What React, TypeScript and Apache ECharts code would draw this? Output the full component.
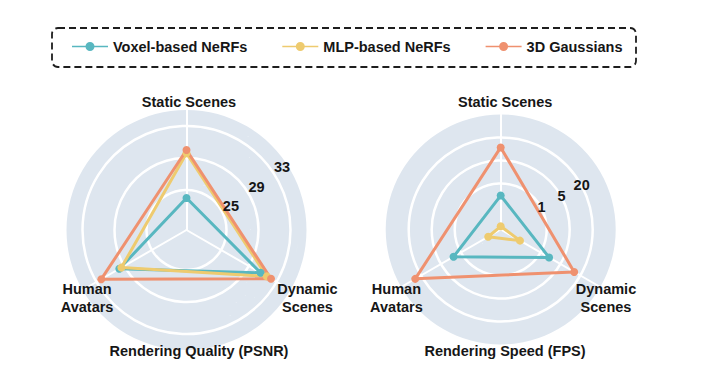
import React, { useEffect, useRef } from 'react';
import * as echarts from 'echarts';

// ---------- data ----------
const SERIES_NAMES = ['Voxel-based NeRFs', 'MLP-based NeRFs', '3D Gaussians'];
const SERIES_COLORS = ['#58b7c0', '#eecb6f', '#ef916f'];
const INDICATORS = ['Static Scenes', 'Human\nAvatars', 'Dynamic\nScenes'];

// Rendering quality, PSNR (dB); order: Static, Human, Dynamic
const PSNR_VOXEL = [24.0, 29.7, 30.7];
const PSNR_MLP = [29.6, 29.4, 31.6];
const PSNR_GS = [30.0, 32.3, 32.2];
const PSNR_TICKS = [25, 29, 33];
const PSNR_MIN = 20;
const PSNR_MAX = 35;

// Rendering speed, FPS; order: Static, Human, Dynamic
const FPS_VOXEL = [0.43, 1.8, 2.0];
const FPS_MLP = [0.05, 0.11, 0.19];
const FPS_GS = [11, 30, 13];
const FPS_TICKS = [1, 5, 20];
const FPS_RING_START = 2; // ring index of first tick
const FPS_RINGS = 5;

const TITLES = ['Rendering Quality (PSNR)', 'Rendering Speed (FPS)'];

// map an FPS value to ring position (ticks are equally spaced, log-like in between)
function fpsPos(v: number): number {
  const t = FPS_TICKS;
  if (v <= t[1]) return FPS_RING_START + Math.log(v / t[0]) / Math.log(t[1] / t[0]);
  return FPS_RING_START + 1 + Math.log(v / t[1]) / Math.log(t[2] / t[1]);
}

const FONT = '"Liberation Sans", Arial, Helvetica, sans-serif';
const TXT = '#161616';
const DISC = '#dee6ef';

const LEGEND_ICON =
  'path://M0,3.7H36V5.3H0Z M13.5,4.5A4.5,4.5 0 1,1 22.5,4.5A4.5,4.5 0 1,1 13.5,4.5Z';

function nameFormatter(name: string) {
  const key = name.startsWith('Static') ? 's' : name.startsWith('Human') ? 'h' : 'd';
  return name
    .split('\n')
    .map((l) => `{${key}|${l}}`)
    .join('\n');
}

function richName(s: number[], h: number[], d: number[]) {
  const base = { fontSize: 14.5, fontWeight: 'bold', color: TXT, fontFamily: FONT, lineHeight: 18 };
  return {
    s: { ...base, padding: s },
    h: { ...base, padding: h },
    d: { ...base, padding: d },
  };
}

export default function App() {
  const ref = useRef<HTMLDivElement>(null);

  useEffect(() => {
    if (!ref.current) return;
    const chart = echarts.init(ref.current, null, { renderer: 'svg' });

    const leftSplitColors = Array.from({ length: PSNR_MAX - PSNR_MIN + 1 }, (_, i) =>
      PSNR_TICKS.includes(PSNR_MIN + i) ? '#ffffff' : 'rgba(0,0,0,0)'
    );
    const rightSplitColors = Array.from({ length: FPS_RINGS + 1 }, (_, i) =>
      i >= FPS_RING_START && i < FPS_RING_START + FPS_TICKS.length ? '#ffffff' : 'rgba(0,0,0,0)'
    );

    const axisNameBase = {
      color: TXT,
      fontSize: 14.5,
      fontWeight: 'bold',
      fontFamily: FONT,
      align: 'center',
      verticalAlign: 'middle',
      formatter: nameFormatter,
    };

    const mkItems = (vals: number[][]) =>
      vals.map((v, i) => ({
        name: SERIES_NAMES[i],
        value: v,
        symbol: 'circle',
        symbolSize: 8,
        lineStyle: { color: SERIES_COLORS[i], width: 3 },
        itemStyle: { color: SERIES_COLORS[i] },
      }));

    const tickLabel = {
      show: true,
      color: TXT,
      fontSize: 14.5,
      fontWeight: 'bold',
      fontFamily: FONT,
      margin: 0,
      align: 'center',
      verticalAlign: 'middle',
    };

    const option: any = {
      animation: false,
      backgroundColor: '#ffffff',
      graphic: [
        {
          type: 'rect',
          shape: { x: 52, y: 28, width: 584, height: 39, r: 6 },
          style: { fill: 'none', stroke: '#1e1e1e', lineWidth: 1.8, lineDash: [7, 4] },
        },
      ],
      legend: {
        data: SERIES_NAMES,
        left: 72,
        top: 39,
        padding: 0,
        itemWidth: 36,
        itemHeight: 9,
        itemGap: 35,
        icon: LEGEND_ICON,
        textStyle: { fontSize: 14.5, fontWeight: 'bold', color: TXT, fontFamily: FONT },
      },
      title: [
        {
          text: TITLES[0],
          left: 199,
          top: 343,
          textAlign: 'center',
          padding: 0,
          textStyle: { fontSize: 14.5, fontWeight: 'bold', color: TXT, fontFamily: FONT },
        },
        {
          text: TITLES[1],
          left: 505,
          top: 343,
          textAlign: 'center',
          padding: 0,
          textStyle: { fontSize: 14.5, fontWeight: 'bold', color: TXT, fontFamily: FONT },
        },
      ],
      radar: [
        {
          center: [186.5, 230],
          radius: 120,
          startAngle: 90,
          shape: 'circle',
          splitNumber: PSNR_MAX - PSNR_MIN,
          nameGap: 15,
          indicator: INDICATORS.map((n) => ({ name: n, min: PSNR_MIN, max: PSNR_MAX })),
          axisName: { ...axisNameBase, rich: richName([13, 0, 0, 5], [0, 0, 0, 35], [0, 0, 0, 8]) },
          axisLine: { lineStyle: { color: '#ffffff', width: 2 } },
          axisTick: { show: false },
          axisLabel: { show: false },
          splitLine: { lineStyle: { color: leftSplitColors, width: 2.5 } },
          splitArea: { show: true, areaStyle: { color: [DISC] } },
        },
        {
          center: [500.7, 229.5],
          radius: 115,
          startAngle: 90,
          shape: 'circle',
          splitNumber: FPS_RINGS,
          nameGap: 21,
          indicator: INDICATORS.map((n) => ({ name: n, min: 0, max: FPS_RINGS })),
          axisName: { ...axisNameBase, rich: richName([17, 0, 0, 9], [0, 0, 0, 27], [0, 25, 0, 0]) },
          axisLine: { lineStyle: { color: '#ffffff', width: 2 } },
          axisTick: { show: false },
          axisLabel: { show: false },
          splitLine: { lineStyle: { color: rightSplitColors, width: 2.5 } },
          splitArea: { show: true, areaStyle: { color: [DISC] } },
        },
      ],
      polar: [
        { center: [186.5, 230], radius: 120 },
        { center: [500.7, 229.5], radius: 115 },
      ],
      angleAxis: [
        { polarIndex: 0, startAngle: 37, show: false, type: 'value', min: 0, max: 360 },
        { polarIndex: 1, startAngle: 29, show: false, type: 'value', min: 0, max: 360 },
      ],
      radiusAxis: [
        {
          polarIndex: 0,
          type: 'value',
          min: PSNR_MIN,
          max: PSNR_MAX,
          interval: 1,
          z: 10,
          axisLine: { show: false },
          axisTick: { show: false },
          splitLine: { show: false },
          splitArea: { show: false },
          axisLabel: {
            ...tickLabel,
            padding: [12, 0, 0, 25],
            formatter: (v: number) => (PSNR_TICKS.includes(Math.round(v)) ? String(Math.round(v)) : ''),
          },
        },
        {
          polarIndex: 1,
          type: 'value',
          min: 0,
          max: FPS_RINGS,
          interval: 1,
          z: 10,
          axisLine: { show: false },
          axisTick: { show: false },
          splitLine: { show: false },
          splitArea: { show: false },
          axisLabel: {
            ...tickLabel,
            padding: [0, 0, 13, 1],
            formatter: (v: number) => {
              const i = Math.round(v) - FPS_RING_START;
              return i >= 0 && i < FPS_TICKS.length ? String(FPS_TICKS[i]) : '';
            },
          },
        },
      ],
      series: [
        {
          type: 'radar',
          radarIndex: 0,
          z: 3,
          data: mkItems([PSNR_VOXEL, PSNR_MLP, PSNR_GS]),
        },
        {
          type: 'radar',
          radarIndex: 1,
          z: 3,
          data: mkItems([FPS_VOXEL, FPS_MLP, FPS_GS].map((arr) => arr.map(fpsPos))),
        },
      ],
    };

    chart.setOption(option);
    return () => chart.dispose();
  }, []);

  return (
    <div
      ref={ref}
      style={{ position: 'fixed', left: 0, top: 0, width: 713, height: 366, background: '#fff' }}
    />
  );
}
